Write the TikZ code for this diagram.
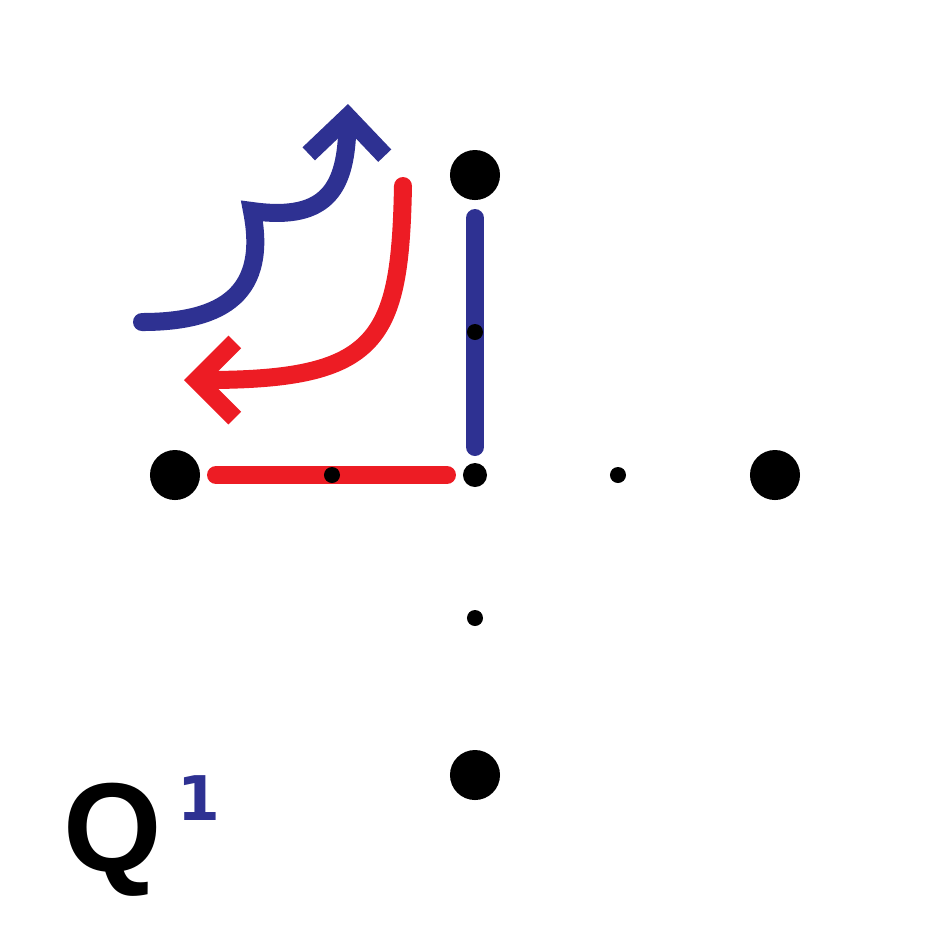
\documentclass[tikz,border=0pt]{standalone}
\usepackage{fontspec}
\setsansfont{Liberation Sans}
\newfontfamily\idxfont{DejaVu Sans}
\usetikzlibrary{arrows.meta,positioning}

\definecolor{qblue}{RGB}{46,49,146}
\definecolor{qred}{RGB}{237,28,36}

\begin{document}
\begin{tikzpicture}[
    x=0.01cm, y=-0.01cm,
    bigdot/.style={circle,fill=black,inner sep=0pt,minimum size=0.5cm},
    smalldot/.style={circle,fill=black,inner sep=0pt,minimum size=0.16cm},
    middot/.style={circle,fill=black,inner sep=0pt,minimum size=0.24cm},
    bluepath/.style={qblue,line width=0.18cm,line cap=round},
    redpath/.style={qred,line width=0.18cm,line cap=round},
    turn/.style={-{Straight Barb[length=0.38cm,width=0.76cm]}},
    qlabel/.style={font=\sffamily\bfseries\fontsize{36}{36}\selectfont},
    qindex/.style={qblue,font=\idxfont\bfseries\fontsize{17.5}{17.5}\selectfont},
]
\useasboundingbox (0,0) rectangle (950,950);

%----------------------------------
% Edges
%----------------------------------

\coordinate (topC) at (475,175);
\coordinate (leftC) at (175,475);
\coordinate (centreC) at (475,475);

\draw[bluepath,shorten <=0.43cm,shorten >=0.28cm] (topC) -- (centreC);
\draw[redpath,shorten <=0.41cm,shorten >=0.28cm] (leftC) -- (centreC);

%----------------------------------
% Lattice points
%----------------------------------

\node[bigdot] (top) at (topC) {};
\node[bigdot] (left) at (leftC) {};
\node[bigdot] (right) at (775,475) {};
\node[bigdot] (bottom) at (475,775) {};

\node[middot] (centre) at (centreC) {};

\node[smalldot] (halfN) at (475,332) {};
\node[smalldot] (halfW) at (332,475) {};
\node[smalldot] (halfE) at (618,475) {};
\node[smalldot] (halfS) at (475,618) {};

%----------------------------------
% Turning arrows
%----------------------------------

\coordinate (blueStart) at (142,322);
\coordinate (blueKink) at (252,211);
\coordinate (blueTip) at (348,104);
\coordinate (redStart) at (403,186);
\coordinate (redTip) at (184,380);

\draw[bluepath,turn] (blueStart) .. controls (225,322) and (268,292) .. (blueKink)
    .. controls (330,222) and (346,185) .. (blueTip);
\draw[redpath,turn] (redStart) .. controls (400,340) and (380,380) .. (redTip);

%----------------------------------
% Label
%----------------------------------

\node[qlabel,anchor=base] (qsym) at (113,871) {Q};
\node[qindex,anchor=base west] (qidx) at (165,820) {1};

\end{tikzpicture}
\end{document}
